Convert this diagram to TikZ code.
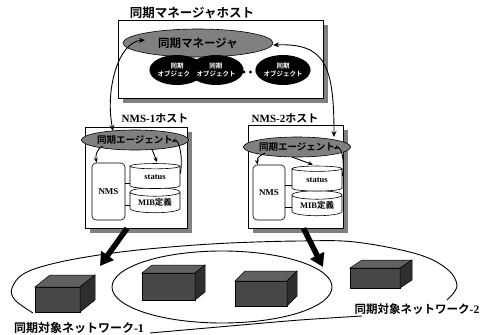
\documentclass[tikz,border=0pt]{standalone}
\usepackage{fontspec}
\usetikzlibrary{shapes.geometric,arrows.meta,calc,shadows}
\newfontfamily\jpfont{Noto Sans CJK JP}[BoldFont={Noto Sans CJK JP Bold}]
\newfontfamily\tnr{Liberation Serif}
% cuboid: front face top-left (x,y), width, height, depth dx, depth dy (upwards)
\newcommand\cuboid[6]{%
  \fill[black!72,draw=black,line width=0.5] (#1,#2) rectangle ++(#3,#4);
  \fill[black!62,draw=black,line width=0.5] (#1,#2) -- ++(#5,-#6) -- ++(#3,0) -- ++(-#5,#6) -- cycle;
  \fill[black!82,draw=black,line width=0.5] ({#1+#3},#2) -- ++(#5,-#6) -- ++(0,#4) -- ++(-#5,#6) -- cycle;
}
\begin{document}
\begin{tikzpicture}[x=1pt,y=-1pt,
  hostbox/.style={draw=black,line width=0.7,fill=white,inner sep=0,
    general shadow={fill=black!50,shadow xshift=5pt,shadow yshift=-5pt}},
  title/.style={font=\jpfont\bfseries\fontsize{#1}{#1}\selectfont,inner sep=0},
  grayell/.style={ellipse,draw=black,line width=0.6,fill=black!50,inner sep=0},
  objell/.style={ellipse,fill=black,minimum width=48,minimum height=30,inner sep=0,
    text=white,align=center,font=\jpfont\bfseries\fontsize{6.5}{8}\selectfont},
  nmsbox/.style={draw=black,line width=0.6,rounded corners=4,fill=white,inner sep=0,
    font=\tnr\bfseries\fontsize{9}{9}\selectfont},
  db/.style={cylinder,shape border rotate=90,aspect=0.25,draw=black,line width=0.6,fill=white,
    inner sep=0,minimum width=50,minimum height=25,font=\tnr\bfseries\fontsize{8.5}{9}\selectfont},
  conn/.style={line width=0.9,black},
  tip/.style={-{Stealth[length=5pt,width=4pt]}},
  bigarrow/.style={line width=5.5,-{Triangle[length=13pt,width=15pt]}},
  net/.style={line width=0.9,black}]
\useasboundingbox (0,0) rectangle (491,335);

% ---- manager host ----
\node[title=12.5] (mgrtitle) at (192,13) {同期マネージャホスト};
\node[hostbox,minimum width=205,minimum height=78] (mgrhost) at (220.5,59) {};
\node[grayell,minimum width=150,minimum height=28,font=\jpfont\bfseries\fontsize{11.5}{11.5}\selectfont] (mgr) at (198,43) {同期マネージャ};
\node[objell] (obj1) at (177,70) {同期\\オブジェクト};
\node[objell] (obj2) at (216,70) {同期\\オブジェクト};
\node[objell] (obj3) at (283,70) {同期\\オブジェクト};
\foreach \dx in {244,250.5,257} \fill (\dx,72) circle (1.6);

% ---- NMS-1 host ----
\node[title=11] (h1title) at (155,118) {{\tnr NMS-1}ホスト};
\node[hostbox,minimum width=102,minimum height=101] (h1) at (136,177.5) {};
\node[grayell,minimum width=80,minimum height=20,font=\jpfont\bfseries\fontsize{9.5}{9.5}\selectfont] (ag1) at (135,140) {同期エージェント};
\node[nmsbox,minimum width=33,minimum height=57] (nms1) at (108.5,191.5) {NMS};
\node[db] (mib1) at (155,202.5) {MIB{\jpfont\bfseries 定義}};
\node[db] (st1) at (155,177.5) {status};
\draw[conn] (nms1.east |- 0,183) -- (st1.west |- 0,183);
\draw[conn] (nms1.east |- 0,205) -- (mib1.west |- 0,205);
\draw[conn,tip] ($(ag1.center)+(-32,6)$) .. controls ($(ag1.center)+(-40,10)$) and ($(nms1.north west)+(4,-5)$) .. ($(nms1.north west)+(5,0)$);
\draw[conn,tip] ($(ag1.center)+(17,9)$) -- ($(st1.north)+(2,-1)$);
\draw[conn,tip] ($(st1.east)+(0,-4)$) .. controls ($(st1.east)+(3,-20)$) and ($(ag1.center)+(44,-2)$) .. ($(ag1.center)+(37,2)$);

% ---- NMS-2 host ----
\node[title=11] (h2title) at (285,118) {{\tnr NMS-2}ホスト};
\node[hostbox,minimum width=95,minimum height=103] (h2) at (295.5,176.5) {};
\node[grayell,minimum width=80,minimum height=20,font=\jpfont\bfseries\fontsize{9.5}{9.5}\selectfont] (ag2) at (297,147) {同期エージェント};
\node[nmsbox,minimum width=32,minimum height=55] (nms2) at (269,192.5) {NMS};
\node[db] (mib2) at (317,205.5) {MIB{\jpfont\bfseries 定義}};
\node[db] (st2) at (317,180) {status};
\draw[conn] (nms2.east |- 0,185) -- (st2.west |- 0,185);
\draw[conn] (nms2.east |- 0,207) -- (mib2.west |- 0,207);
\draw[conn,tip] ($(ag2.center)+(-32,6)$) .. controls ($(ag2.center)+(-40,10)$) and ($(nms2.north west)+(4,-5)$) .. ($(nms2.north west)+(5,0)$);
\draw[conn,tip] ($(ag2.center)+(-5,10)$) -- ($(st2.north)+(-4,-1)$);
\draw[conn,tip] ($(st2.east)+(0,-4)$) .. controls ($(st2.east)+(3,-20)$) and ($(ag2.center)+(44,-2)$) .. ($(ag2.center)+(37,2)$);

% ---- manager <-> agents ----
\draw[conn,{Stealth[length=6pt,width=5pt]}-{Stealth[length=6pt,width=5pt]}]
  ($(ag1.center)+(-22,-9)$) .. controls ($(ag1.center)+(-30,-50)$) and ($(mgr.center)+(-80,-1)$) .. ($(mgr.center)+(-53,-3)$);
\draw[conn,{Stealth[length=6pt,width=5pt]}-{Stealth[length=6pt,width=5pt]}]
  ($(mgr.center)+(75,2)$) .. controls ($(mgr.center)+(127,0)$) and ($(ag2.center)+(37,-82)$) .. ($(ag2.center)+(37,-10)$);

% ---- target networks ----
\coordinate (net1in) at (100,266);
\coordinate (net2in) at (323,267);
\draw[bigarrow] ($(h1.south)+(-9,0)$) -- (net1in);
\draw[bigarrow] ($(h2.south)+(8,0)$) -- (net2in);

\cuboid{35}{287}{45}{25}{15}{12}
\cuboid{142}{273}{53}{27}{10}{8}
\cuboid{235}{281}{52}{25}{10}{10}
\cuboid{350}{268}{50}{20}{12}{8}

\draw[net] plot[smooth,tension=0.6] coordinates {(33,313) (15,300) (12,288) (25,273) (60,262) (113,253) (170,247) (230,243) (300,241) (355,242) (417,254) (447,269) (457,286) (447,300)};
\draw[net] (222,287) ellipse [x radius=110,y radius=36];
\draw[net] plot[smooth] coordinates {(150,333) (230,326) (300,320) (362,316)};

\node[title=12] (n1label) at (79,328) {同期対象ネットワーク{\tnr -1}};
\node[title=11.5] (n2label) at (417,309) {同期対象ネットワーク{\tnr -2}};
\end{tikzpicture}
\end{document}
